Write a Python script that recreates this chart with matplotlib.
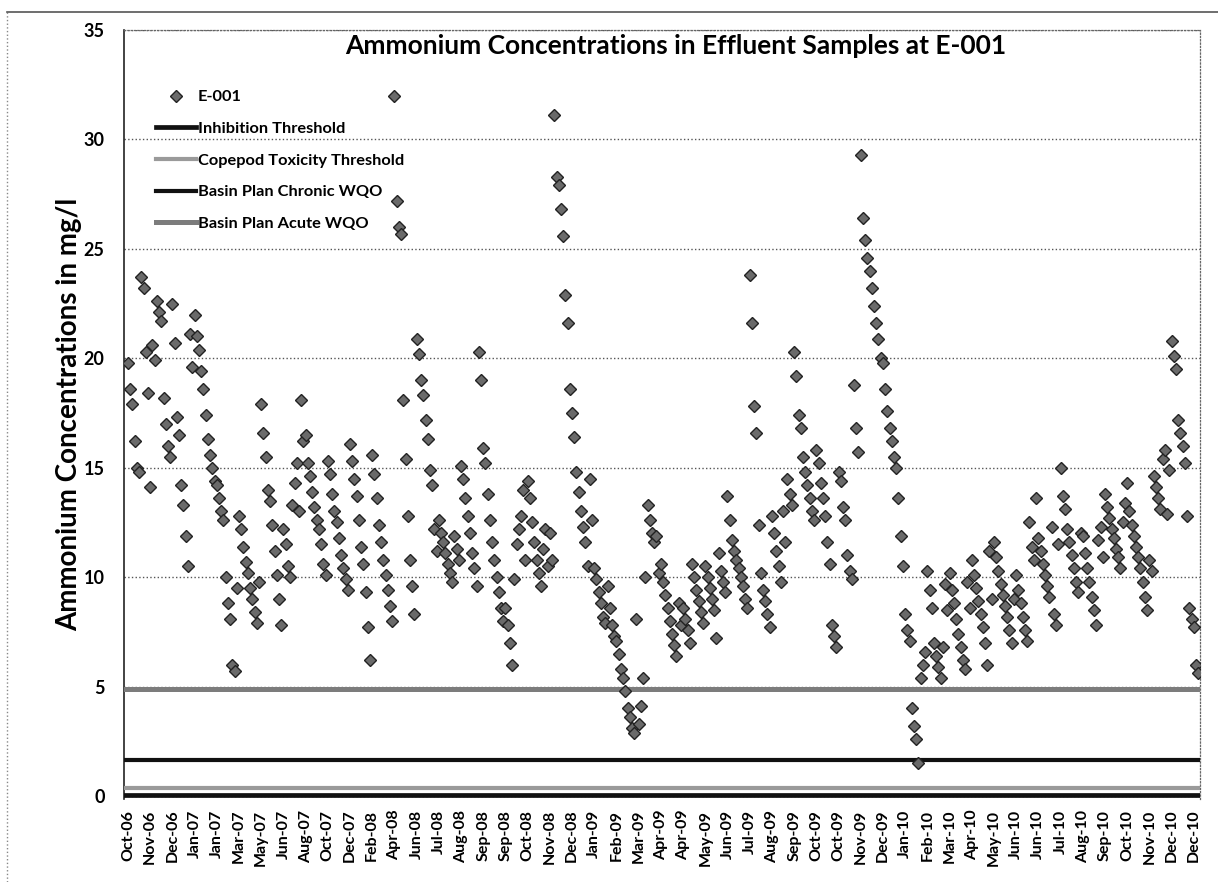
import numpy as np
import matplotlib
matplotlib.use("Agg")
import matplotlib.pyplot as plt
from matplotlib.lines import Line2D

plt.rcParams['font.family'] = ['Lato', 'DejaVu Sans']

# category labels, one every 10 samples (Excel category axis)
tick_labels = ["Oct-06", "Nov-06", "Dec-06", "Jan-07", "Jan-07", "Mar-07", "May-07", "Jun-07",
               "Aug-07", "Oct-07", "Dec-07", "Feb-08", "Apr-08", "Jun-08", "Jul-08", "Aug-08",
               "Sep-08", "Sep-08", "Oct-08", "Nov-08", "Dec-08", "Jan-09", "Feb-09", "Mar-09",
               "Apr-09", "Apr-09", "May-09", "Jun-09", "Jul-09", "Aug-09", "Sep-09", "Oct-09",
               "Oct-09", "Nov-09", "Dec-09", "Jan-10", "Feb-10", "Mar-10", "Apr-10", "May-10",
               "Jun-10", "Jun-10", "Jul-10", "Aug-10", "Sep-10", "Oct-10", "Nov-10", "Dec-10",
               "Dec-10"]
label_step = 10

# E-001 ammonium (mg/l)
conc_oct06_feb08 = [
    19.8, 18.6, 17.9, 16.2, 15.0, 14.8, 23.7, 23.2, 20.3, 18.4,
    14.1, 20.6, 19.9, 22.6, 22.1, 21.7, 18.2, 17.0, 16.0, 15.5,
    22.5, 20.7, 17.3, 16.5, 14.2, 13.3, 11.9, 10.5, 21.1, 19.6,
    22.0, 21.0, 20.4, 19.4, 18.6, 17.4, 16.3, 15.6, 15.0, 14.4,
    14.2, 13.6, 13.0, 12.6, 10.0, 8.8, 8.1, 6.0, 5.7, 9.5,
    12.8, 12.2, 11.4, 10.7, 10.2, 9.5, 9.0, 8.4, 7.9, 9.8,
    17.9, 16.6, 15.5, 14.0, 13.5, 12.4, 11.2, 10.1, 9.0, 7.8,
    12.2, 11.5, 10.5, 10.0, 13.3, 14.3, 15.2, 13.0, 18.1, 16.2,
    16.5, 15.2, 14.6, 13.9, 13.2, 12.6, 12.2, 11.5, 10.6, 10.1,
    15.3, 14.7, 13.8, 13.0, 12.5, 11.8, 11.0, 10.4, 9.9, 9.4,
    16.1, 15.3, 14.5, 13.7, 12.6, 11.4, 10.6, 9.3, 7.7, 6.2,
    15.6, 14.7, 13.6, 12.4, 11.6, 10.8, 10.1, 9.4, 8.7, 8.0,
]
conc_apr08_mar09 = [
    32.0, 27.2, 26.0, 25.7, 18.1, 15.4, 12.8, 10.8, 9.6, 8.3,
    20.9, 20.2, 19.0, 18.3, 17.2, 16.3, 14.9, 14.2, 12.2, 11.2,
    12.6, 12.0, 11.6, 11.1, 10.6, 10.2, 9.8, 11.9, 11.3, 10.8,
    15.1, 14.5, 13.6, 12.8, 12.0, 11.1, 10.4, 9.6, 20.3, 19.0,
    15.9, 15.2, 13.8, 12.6, 11.6, 10.8, 10.0, 9.3, 8.6, 8.0,
    8.6, 7.8, 7.0, 6.0, 9.9, 11.5, 12.2, 12.8, 14.0, 10.8,
    14.4, 13.6, 12.5, 11.6, 10.8, 10.2, 9.6, 11.3, 12.2, 10.5,
    12.0, 10.8, 31.1, 28.3, 27.9, 26.8, 25.6, 22.9, 21.6, 18.6,
    17.5, 16.4, 14.8, 13.9, 13.0, 12.3, 11.6, 10.5, 14.5, 12.6,
    10.4, 9.9, 9.3, 8.8, 8.2, 7.9, 9.6, 8.6, 7.8, 7.3,
    7.1, 6.5, 5.8, 5.4, 4.8, 4.0, 3.6, 3.1, 2.9, 8.1,
    3.3, 4.1, 5.4, 10.0, 13.3, 12.6, 12.0, 11.6, 11.9, 10.2,
]
conc_apr09_jan10 = [
    10.6, 9.8, 9.2, 8.6, 8.0, 7.4, 6.9, 6.4, 8.8, 7.8,
    8.6, 8.1, 7.6, 7.0, 10.6, 10.0, 9.4, 8.9, 8.4, 7.9,
    10.5, 10.0, 9.5, 9.0, 8.5, 7.2, 11.1, 10.3, 9.8, 9.3,
    13.7, 12.6, 11.7, 11.2, 10.8, 10.4, 10.0, 9.6, 9.0, 8.6,
    23.8, 21.6, 17.8, 16.6, 12.4, 10.2, 9.4, 8.9, 8.3, 7.7,
    12.8, 12.0, 11.2, 10.5, 9.8, 13.0, 11.6, 14.5, 13.8, 13.3,
    20.3, 19.2, 17.4, 16.8, 15.5, 14.8, 14.2, 13.6, 13.0, 12.6,
    15.8, 15.2, 14.3, 13.6, 12.8, 11.6, 10.6, 7.8, 7.3, 6.8,
    14.8, 14.4, 13.2, 12.6, 11.0, 10.3, 9.9, 18.8, 16.8, 15.7,
    29.3, 26.4, 25.4, 24.6, 24.0, 23.2, 22.4, 21.6, 20.9, 20.0,
    19.8, 18.6, 17.6, 16.8, 16.2, 15.5, 15.0, 13.6, 11.9, 10.5,
    8.3, 7.6, 7.1, 4.0, 3.2, 2.6, 1.5, 5.4, 6.0, 6.6,
]
conc_feb10_dec10 = [
    10.3, 9.4, 8.6, 7.0, 6.4, 5.9, 5.4, 6.8, 9.7, 8.5,
    10.2, 9.4, 8.8, 8.1, 7.4, 6.8, 6.2, 5.8, 9.8, 8.6,
    10.8, 10.1, 9.5, 8.9, 8.3, 7.7, 7.0, 6.0, 11.2, 9.0,
    11.6, 10.9, 10.3, 9.7, 9.2, 8.7, 8.2, 7.6, 7.0, 9.0,
    10.1, 9.4, 8.8, 8.2, 7.6, 7.1, 12.5, 11.4, 10.8, 13.6,
    11.8, 11.2, 10.6, 10.1, 9.6, 9.1, 12.3, 8.3, 7.8, 11.5,
    15.0, 13.7, 13.1, 12.2, 11.6, 11.0, 10.4, 9.8, 9.3, 12.0,
    11.9, 11.1, 10.4, 9.8, 9.1, 8.5, 7.8, 11.7, 12.3, 10.9,
    13.8, 13.2, 12.7, 12.2, 11.8, 11.3, 10.9, 10.4, 12.5, 13.4,
    14.3, 13.0, 12.4, 11.9, 11.4, 10.9, 10.4, 9.8, 9.1, 8.5,
    10.8, 10.3, 14.6, 14.1, 13.6, 13.1, 15.4, 15.8, 12.9, 14.9,
    20.8, 20.1, 19.5, 17.2, 16.6, 16.0, 15.2, 12.8, 8.6, 8.1,
    7.7, 6.0, 5.6,
]

# thresholds (mg/l)
inhibition_threshold = 0.05
copepod_threshold = 0.38
chronic_wqo = 1.65
acute_wqo = 4.9

conc = np.array(conc_oct06_feb08 + conc_apr08_mar09 + conc_apr09_jan10 + conc_feb10_dec10)
x = np.arange(len(conc))

fig = plt.figure(figsize=(12.18, 8.82), dpi=100)
ax = fig.add_axes([0.1018, 0.0945, 0.8834, 0.8715])

ax.plot(x, conc, linestyle="none", marker="D", markersize=6.3,
        markerfacecolor="#6a6a6a", markeredgecolor="#222222", markeredgewidth=1.0,
        label="E-001", zorder=4)

ax.axhline(inhibition_threshold, color="#111111", lw=3.4, label="Inhibition Threshold", zorder=3)
ax.axhline(copepod_threshold, color="#9a9a9a", lw=3.0, label="Copepod Toxicity Threshold", zorder=3)
ax.axhline(chronic_wqo, color="#111111", lw=3.0, label="Basin Plan Chronic WQO", zorder=3)
ax.axhline(acute_wqo, color="#7c7c7c", lw=3.6, label="Basin Plan Acute WQO", zorder=3)

ax.set_ylim(-0.12, 35)
ax.set_xlim(-1.8, len(conc) - 0.2)
ax.set_yticks(range(0, 36, 5))
ax.set_xticks(np.arange(len(tick_labels)) * label_step)
ax.set_xticklabels(tick_labels, rotation=90, fontsize=11.5, fontweight="bold")
for lab in ax.get_yticklabels():
    lab.set_fontsize(13)
    lab.set_fontweight("bold")
ax.tick_params(axis="y", length=0, pad=14)
ax.tick_params(axis="x", length=0, pad=8)

ax.grid(True, axis="y", linestyle=":", color="#555555", lw=1.0, zorder=1)
ax.set_axisbelow(True)
ax.spines["left"].set_color("#222222")
ax.spines["left"].set_linewidth(1.2)
ax.spines["bottom"].set_visible(False)
for side in ["top", "right"]:
    ax.spines[side].set_linestyle(":")
    ax.spines[side].set_color("#666666")
    ax.spines[side].set_linewidth(0.9)

ax.set_ylabel("Ammonium Concentrations in mg/l", fontsize=20, fontweight="bold")
ax.yaxis.set_label_coords(-0.039, 0.5)
ax.text(0.513, 0.995, "Ammonium Concentrations in Effluent Samples at E-001",
        transform=ax.transAxes, ha="center", va="top", fontsize=19, fontweight="bold")

ax.legend(loc="upper left", bbox_to_anchor=(0.03, 0.922), frameon=False, numpoints=1,
          borderaxespad=0, borderpad=0, handlelength=2.4, handletextpad=0.15,
          labelspacing=1.05, prop={"weight": "bold", "size": 11.8})

# outer chart border
fig.add_artist(Line2D([0.006, 0.006], [0.0, 0.986], color="#888888", lw=1, ls=":"))
fig.add_artist(Line2D([0.006, 1.0], [0.986, 0.986], color="#555555", lw=1.2))

fig.savefig("out.png", dpi=100)
